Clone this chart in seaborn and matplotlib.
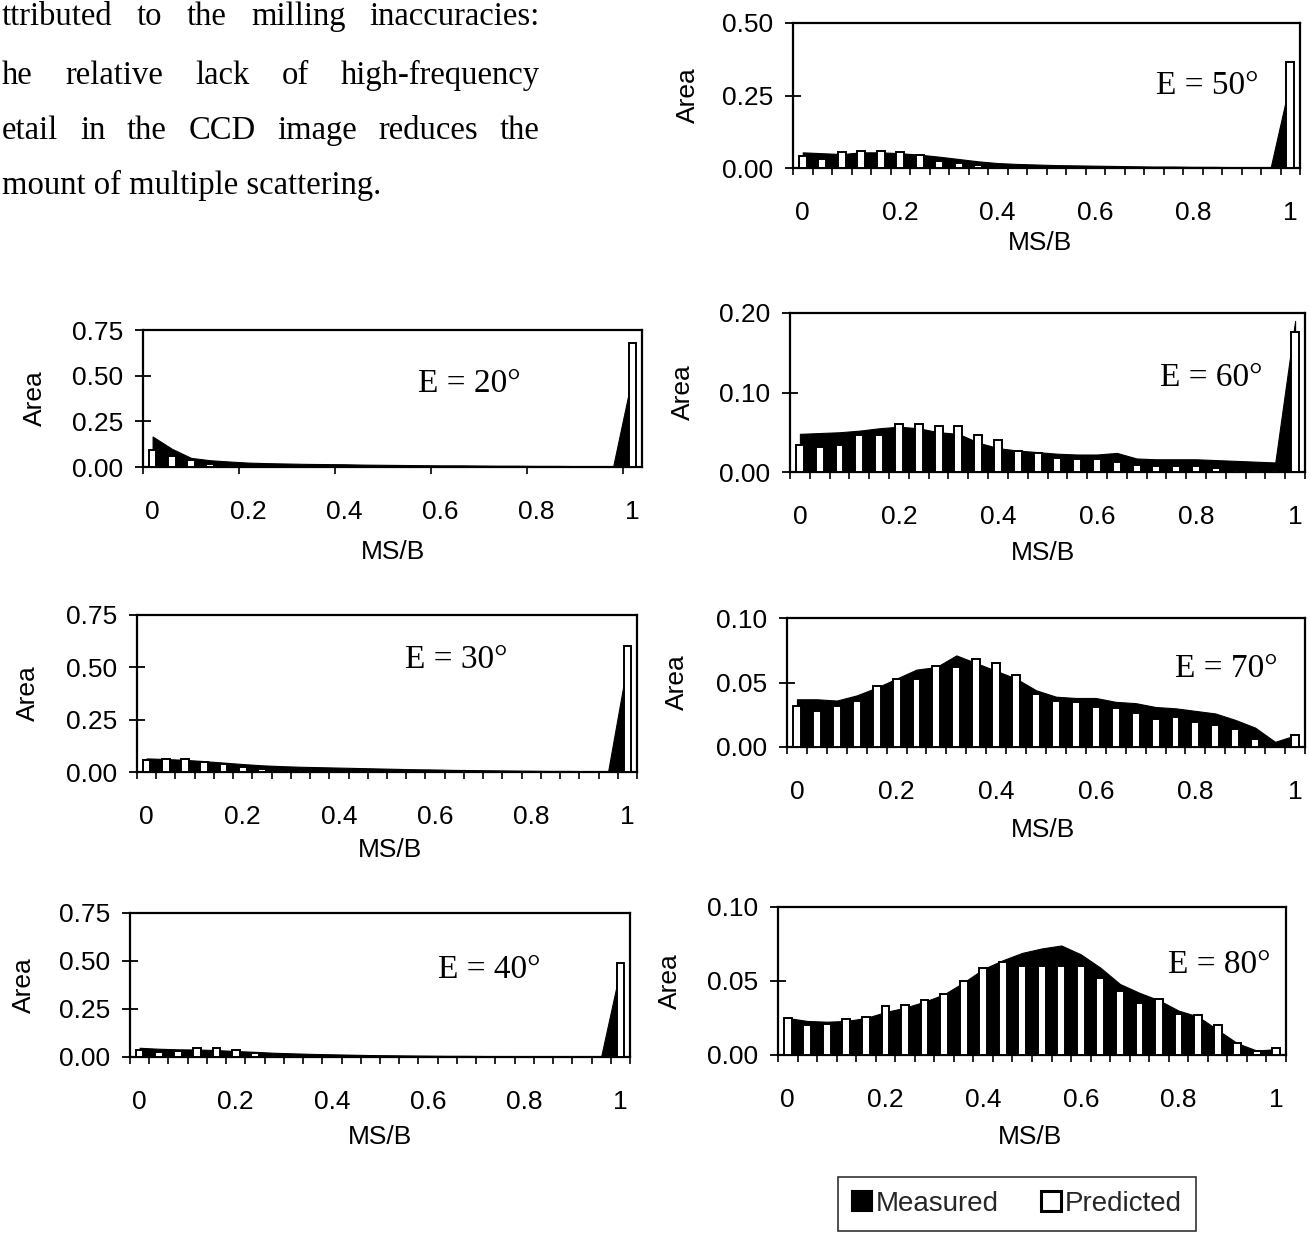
import numpy as np
import pandas as pd
import matplotlib
matplotlib.use("Agg")
import matplotlib.pyplot as plt
from matplotlib.patches import Patch
import seaborn as sns

# ---------------- data ----------------
ms_b_bins = [0.00, 0.04, 0.08, 0.12, 0.16, 0.20, 0.24, 0.28, 0.32, 0.36, 0.40, 0.44, 0.48,
             0.52, 0.56, 0.60, 0.64, 0.68, 0.72, 0.76, 0.80, 0.84, 0.88, 0.92, 0.96, 1.00]
xtick_labels = ['0', '0.2', '0.4', '0.6', '0.8', '1']

measured_20 = [0.167, 0.100, 0.050, 0.037, 0.030, 0.024, 0.021, 0.019, 0.017, 0.016, 0.015, 0.013, 0.012,
               0.011, 0.010, 0.009, 0.009, 0.008, 0.007, 0.007, 0.006, 0.006, 0.005, 0.005, 0.005, 0.50]
predicted_20 = [0.093, 0.059, 0.041, 0.015, 0.010, 0.008, 0.006, 0.005, 0.004, 0.003, 0.003, 0.002, 0.002,
                0.002, 0.002, 0.001, 0.001, 0.001, 0.001, 0.001, 0.001, 0.001, 0.001, 0.001, 0.001, 0.68]

measured_30 = [0.065, 0.062, 0.058, 0.052, 0.045, 0.038, 0.032, 0.028, 0.025, 0.023, 0.021, 0.019, 0.017,
               0.015, 0.013, 0.012, 0.010, 0.009, 0.008, 0.007, 0.006, 0.005, 0.005, 0.004, 0.004, 0.52]
predicted_30 = [0.059, 0.064, 0.064, 0.048, 0.037, 0.022, 0.014, 0.010, 0.008, 0.006, 0.005, 0.004, 0.003,
                0.003, 0.002, 0.002, 0.002, 0.002, 0.001, 0.001, 0.001, 0.001, 0.001, 0.001, 0.001, 0.60]

measured_40 = [0.048, 0.043, 0.040, 0.039, 0.036, 0.031, 0.027, 0.022, 0.019, 0.016, 0.014, 0.012, 0.010,
               0.009, 0.008, 0.007, 0.006, 0.006, 0.005, 0.005, 0.004, 0.004, 0.004, 0.003, 0.003, 0.46]
predicted_40 = [0.034, 0.027, 0.030, 0.048, 0.048, 0.034, 0.021, 0.012, 0.008, 0.005, 0.004, 0.003, 0.003,
                0.002, 0.002, 0.002, 0.001, 0.001, 0.001, 0.001, 0.001, 0.001, 0.001, 0.001, 0.001, 0.49]

measured_50 = [0.054, 0.051, 0.048, 0.054, 0.054, 0.051, 0.046, 0.039, 0.031, 0.023, 0.017, 0.014, 0.012,
               0.010, 0.009, 0.008, 0.007, 0.006, 0.005, 0.005, 0.004, 0.004, 0.003, 0.003, 0.003, 0.30]
predicted_50 = [0.043, 0.031, 0.054, 0.060, 0.060, 0.054, 0.046, 0.023, 0.016, 0.010, 0.006, 0.003, 0.002,
                0.001, 0.001, 0.001, 0.001, 0.001, 0.001, 0.001, 0.001, 0.001, 0.001, 0.001, 0.001, 0.365]

measured_60 = [0.048, 0.049, 0.050, 0.052, 0.055, 0.057, 0.055, 0.050, 0.048, 0.037, 0.030, 0.027, 0.025,
               0.023, 0.022, 0.022, 0.024, 0.017, 0.016, 0.016, 0.016, 0.015, 0.014, 0.013, 0.012, 0.19]
predicted_60 = [0.034, 0.032, 0.034, 0.047, 0.047, 0.061, 0.061, 0.058, 0.058, 0.047, 0.040, 0.026, 0.024,
                0.018, 0.016, 0.016, 0.012, 0.009, 0.008, 0.008, 0.007, 0.005, 0.003, 0.003, 0.003, 0.176]

measured_70 = [0.037, 0.037, 0.036, 0.040, 0.046, 0.053, 0.060, 0.062, 0.071, 0.065, 0.059, 0.053, 0.044,
               0.039, 0.038, 0.038, 0.035, 0.034, 0.031, 0.030, 0.028, 0.026, 0.021, 0.015, 0.004, 0.009]
predicted_70 = [0.032, 0.028, 0.032, 0.036, 0.047, 0.053, 0.053, 0.063, 0.062, 0.068, 0.065, 0.056, 0.041,
                0.036, 0.035, 0.031, 0.030, 0.026, 0.022, 0.023, 0.019, 0.017, 0.014, 0.006, 0.001, 0.009]

measured_80 = [0.025, 0.023, 0.0225, 0.023, 0.025, 0.029, 0.032, 0.036, 0.041, 0.049, 0.058, 0.064, 0.069,
               0.072, 0.074, 0.068, 0.059, 0.048, 0.042, 0.037, 0.030, 0.026, 0.017, 0.008, 0.003, 0.004]
predicted_80 = [0.025, 0.020, 0.021, 0.024, 0.026, 0.033, 0.034, 0.037, 0.041, 0.050, 0.059, 0.063, 0.060,
                0.060, 0.060, 0.060, 0.052, 0.043, 0.035, 0.038, 0.028, 0.027, 0.020, 0.008, 0.003, 0.0045]

angle_labels = ['E = 20°', 'E = 30°', 'E = 40°', 'E = 50°', 'E = 60°', 'E = 70°', 'E = 80°']
yticks_wide = [0.0, 0.25, 0.5, 0.75]
yticks_50 = [0.0, 0.25, 0.5]
yticks_60 = [0.0, 0.1, 0.2]
yticks_small = [0.0, 0.05, 0.1]

body_lines = [
    ['ttributed', 'to', 'the', 'milling', 'inaccuracies:'],
    ['he', 'relative', 'lack', 'of', 'high-frequency'],
    ['etail', 'in', 'the', 'CCD', 'image', 'reduces', 'the'],
    ['mount of multiple scattering.'],
]

# ---------------- layout (pixels) ----------------
W, H = 1310, 1235
panels = [
    (angle_labels[0], measured_20, predicted_20, yticks_wide, '{:.2f}', (143, 642, 330, 467), 5, (0.551, 0.61), 35, (393, 552)),
    (angle_labels[1], measured_30, predicted_30, yticks_wide, '{:.2f}', (137, 637, 615, 772), 1, (0.536, 0.713), 28, (390, 850)),
    (angle_labels[2], measured_40, predicted_40, yticks_wide, '{:.2f}', (130, 630, 913, 1057), 1, (0.616, 0.604), 24, (380, 1137)),
    (angle_labels[3], measured_50, predicted_50, yticks_50, '{:.2f}', (793, 1300, 23, 168), 1, (0.715, 0.57), 688, (1040, 243)),
    (angle_labels[4], measured_60, predicted_60, yticks_60, '{:.2f}', (790, 1305, 313, 472), 1, (0.718, 0.59), 683, (1043, 553)),
    (angle_labels[5], measured_70, predicted_70, yticks_small, '{:.2f}', (787, 1305, 618, 747), 1, (0.749, 0.61), 677, (1043, 830)),
    (angle_labels[6], measured_80, predicted_80, yticks_small, '{:.2f}', (778, 1286, 907, 1055), 1, (0.768, 0.61), 670, (1030, 1137)),
]

sns.set_theme(style="white")
plt.rcParams['font.family'] = ['Liberation Sans', 'DejaVu Sans']
plt.rcParams['axes.edgecolor'] = 'black'
plt.rcParams['axes.linewidth'] = 1.6

fig = plt.figure(figsize=(W / 100, H / 100), dpi=100)

cat_labels = [f'{v:.2f}' for v in ms_b_bins]
idx = np.arange(len(ms_b_bins))
tick_fs = 19

for (lab, meas, pred, yt, fmt, (L, R, T, B), mstep, txy, ylx, (xlx, xly)) in panels:
    ax = fig.add_axes([L / W, 1 - B / H, (R - L) / W, (B - T) / H])
    df = pd.DataFrame({'MS/B': cat_labels, 'Measured': meas, 'Predicted': pred})
    ax.fill_between(idx, df['Measured'], 0, color='black', linewidth=0.8, edgecolor='black', zorder=1)
    sns.barplot(data=df, x='MS/B', y='Predicted', order=cat_labels, ax=ax, color='white',
                edgecolor='black', linewidth=1.4, width=0.4, saturation=1, zorder=3)
    for p in ax.patches:
        p.set_zorder(3)
    ax.set_xlim(-0.5, len(ms_b_bins) - 0.5)
    ax.set_ylim(yt[0], yt[-1])
    ax.set_yticks(yt)
    ax.set_yticklabels([fmt.format(v) for v in yt])
    ax.set_xticks(idx[::5])
    ax.set_xticklabels(xtick_labels)
    ax.set_xticks(np.arange(-0.5, len(ms_b_bins), mstep), minor=True)
    ax.tick_params(axis='x', which='major', length=0, pad=24, labelsize=tick_fs, colors='black')
    ax.tick_params(axis='x', which='minor', length=5, width=1.2, direction='out', bottom=True, color='black')
    ax.tick_params(axis='y', which='major', length=11, width=1.3, direction='inout', left=True,
                   pad=9, labelsize=tick_fs, colors='black')
    for s in ax.spines.values():
        s.set_visible(True)
        s.set_color('black')
        s.set_linewidth(1.6)
    ax.set_xlabel('')
    ax.set_ylabel('')
    ax.text(txy[0], txy[1], lab, transform=ax.transAxes, ha='left', va='center',
            fontsize=24, family=['Liberation Serif', 'DejaVu Serif'], color='black')
    fig.text(ylx / W, 1 - ((T + B) / 2) / H, 'Area', rotation=90, ha='center', va='center',
             fontsize=tick_fs, color='black')
    fig.text(xlx / W, 1 - xly / H, 'MS/B', ha='center', va='center', fontsize=tick_fs, color='black')

# ---------------- body text (justified lines) ----------------
serif = ['Liberation Serif', 'DejaVu Serif']
line_baselines = [25, 84, 139, 194]
x_left, x_right = 2, 540
renderer = fig.canvas.get_renderer()
for li, (words, yb) in enumerate(zip(body_lines, line_baselines)):
    arts = [fig.text(x_left / W, 1 - yb / H, w, ha='left', va='baseline',
                     fontsize=23.5, family=serif, color='black') for w in words]
    if len(arts) > 1:
        widths = [a.get_window_extent(renderer).width for a in arts]
        gap = (x_right - x_left - sum(widths)) / (len(arts) - 1)
        x = x_left
        for a, wd in zip(arts, widths):
            a.set_x(x / W)
            x += wd + gap

# ---------------- legend ----------------
handles = [Patch(facecolor='black', edgecolor='black', linewidth=1.5),
           Patch(facecolor='white', edgecolor='black', linewidth=2.2)]
leg = fig.legend(handles=handles, labels=['Measured', 'Predicted'], ncol=2, loc='upper left',
                 bbox_to_anchor=(838 / W, 1 - 1177 / H), frameon=True, fancybox=False,
                 edgecolor='black', fontsize=20, handlelength=0.72, handleheight=0.72,
                 handletextpad=0.15, columnspacing=1.5, borderpad=0.5, borderaxespad=0)
leg.get_frame().set_linewidth(1.2)

fig.savefig('out.png', dpi=100, facecolor='white')
